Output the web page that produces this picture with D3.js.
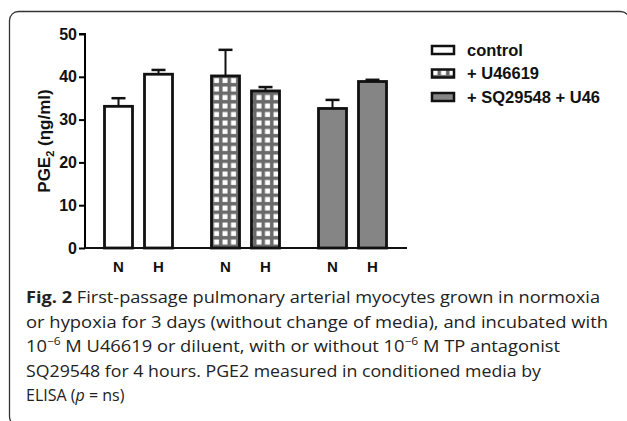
<!DOCTYPE html>
<html>
<head>
<meta charset="utf-8">
<script src="https://cdn.jsdelivr.net/npm/d3@7"></script>
<style>
  body { margin: 0; background: #fff; }
  svg { display: block; }
</style>
</head>
<body>
<div id="chart-area"></div>
<script>
let width = 627,
    height = 421;

// data
let groups = ["control", "+ U46619", "+ SQ29548 + U46"];
let conditions = ["N", "H"];
let means = [[33.1, 40.6], [40.2, 36.7], [32.6, 38.9]];
let errs = [[1.9, 1.0], [6.1, 0.9], [2.0, 0.4]];
let yTicks = [0, 10, 20, 30, 40, 50];

let captionLines = [
  [{t: "Fig. 2", b: true}, {t: " First-passage pulmonary arterial myocytes grown in normoxia"}],
  [{t: "or hypoxia for 3 days (without change of media), and incubated with"}],
  [{t: "10"}, {t: "\u22126", sup: true}, {t: " M U46619 or diluent, with or without 10"}, {t: "\u22126", sup: true}, {t: " M TP antagonist"}],
  [{t: "SQ29548 for 4 hours. PGE2 measured in conditioned media by"}],
  [{t: "ELISA ("}, {t: "p", i: true}, {t: " = ns)"}]
];
// right end of each caption line (null = natural width)
let captionEnds = [600, 608, 560, 541, null];

let svg = d3.select("#chart-area").append("svg")
  .attr("width", width)
  .attr("height", height);

// hatch pattern for U46619
let defs = svg.append("defs");
let pat = defs.append("pattern")
  .attr("id", "grid")
  .attr("patternUnits", "userSpaceOnUse")
  .attr("width", 8.5).attr("height", 8.5);
pat.append("rect").attr("width", 8.5).attr("height", 8.5).attr("fill", "#6a6a6a");
pat.append("rect").attr("x", 1.5).attr("y", 1.5).attr("width", 5).attr("height", 5).attr("fill", "#fff");

let fills = ["#fff", "url(#grid)", "#858585"];

// outer frame
svg.append("rect")
  .attr("x", 9.5).attr("y", 11.5)
  .attr("width", 620).attr("height", 414)
  .attr("rx", 9)
  .attr("fill", "none")
  .attr("stroke", "#333")
  .attr("stroke-width", 1.3);

let x0 = 85, x1 = 406, yTop = 34, yBase = 248;

let xGroup = d3.scaleBand().domain(groups).range([x0, x1]);
let xInner = d3.scaleBand().domain(conditions)
  .range([13.5, xGroup.bandwidth() - 13.5])
  .paddingInner(0.3).paddingOuter(0.15);
let y = d3.scaleLinear().domain([0, 50]).range([yBase, yTop]);

let bold = "'Liberation Sans', Arial, sans-serif";

// y axis
let yAxis = svg.append("g")
  .attr("transform", "translate(" + x0 + ",0)")
  .call(d3.axisLeft(y).tickValues(yTicks).tickSize(6).tickPadding(2));
yAxis.select(".domain").attr("stroke-width", 2).attr("d", "M-6," + yTop + "H0V" + yBase);
yAxis.selectAll(".tick line").attr("stroke-width", 2);
yAxis.selectAll("text")
  .attr("font-family", bold).attr("font-weight", "bold")
  .attr("font-size", 16).attr("fill", "#111");

svg.append("text")
  .attr("transform", "translate(50," + ((yTop + yBase) / 2) + ") rotate(-90)")
  .attr("text-anchor", "middle")
  .attr("font-family", bold).attr("font-weight", "bold")
  .attr("font-size", 17).attr("fill", "#111")
  .call(t => {
    t.append("tspan").text("PGE");
    t.append("tspan").attr("font-size", 11).attr("dy", 4).text("2");
    t.append("tspan").attr("dy", -4).text(" (\u03b7g/ml)");
  });

// bars
let rows = [];
groups.forEach((g, gi) => conditions.forEach((c, ci) => {
  rows.push({g: g, gi: gi, c: c, v: means[gi][ci], e: errs[gi][ci]});
}));

let bw = xInner.bandwidth();

// error bars (upwards only)
let eb = svg.selectAll(".err").data(rows).enter().append("g").attr("class", "err");
eb.append("line")
  .attr("x1", d => xGroup(d.g) + xInner(d.c) + bw / 2)
  .attr("x2", d => xGroup(d.g) + xInner(d.c) + bw / 2)
  .attr("y1", d => y(d.v)).attr("y2", d => y(d.v + d.e))
  .attr("stroke", "#111").attr("stroke-width", 2);
eb.append("line")
  .attr("x1", d => xGroup(d.g) + xInner(d.c) + bw / 2 - 7)
  .attr("x2", d => xGroup(d.g) + xInner(d.c) + bw / 2 + 7)
  .attr("y1", d => y(d.v + d.e)).attr("y2", d => y(d.v + d.e))
  .attr("stroke", "#111").attr("stroke-width", 2.5);

svg.selectAll(".bar").data(rows).enter().append("rect")
  .attr("class", "bar")
  .attr("x", d => xGroup(d.g) + xInner(d.c))
  .attr("y", d => y(d.v))
  .attr("width", bw)
  .attr("height", d => y(0) - y(d.v))
  .attr("fill", d => fills[d.gi])
  .attr("stroke", "#111")
  .attr("stroke-width", 2.8);

// x axis baseline
svg.append("line")
  .attr("x1", x0).attr("x2", x1 + 1)
  .attr("y1", yBase).attr("y2", yBase)
  .attr("stroke", "#111").attr("stroke-width", 2);

svg.selectAll(".xlab").data(rows).enter().append("text")
  .attr("class", "xlab")
  .attr("x", d => xGroup(d.g) + xInner(d.c) + bw / 2)
  .attr("y", 272)
  .attr("text-anchor", "middle")
  .attr("font-family", bold).attr("font-weight", "bold")
  .attr("font-size", 15).attr("fill", "#111")
  .text(d => d.c);

// legend
let leg = svg.selectAll(".leg").data(groups).enter().append("g")
  .attr("class", "leg")
  .attr("transform", (d, i) => "translate(431," + (45 + i * 23.5) + ")");
leg.append("rect")
  .attr("x", 1).attr("y", 1).attr("width", 22).attr("height", 8)
  .attr("fill", (d, i) => fills[i])
  .attr("stroke", "#111").attr("stroke-width", 2.5);
leg.append("text")
  .attr("x", 36).attr("y", 10.5)
  .attr("font-family", bold).attr("font-weight", "bold")
  .attr("font-size", 16.5).attr("fill", "#111")
  .text(d => d);

// caption
let capFont = "'Open Sans', 'Noto Sans', sans-serif";
captionLines.forEach((parts, li) => {
  let t = svg.append("text")
    .attr("x", 26).attr("y", 303 + li * 24.5)
    .attr("font-family", capFont)
    .attr("font-size", 16).attr("fill", "#222");
  parts.forEach(p => {
    let s = t.append("tspan").text(p.t);
    if (p.b) s.attr("font-weight", "bold");
    if (p.i) s.attr("font-style", "italic");
    if (p.sup) s.attr("font-size", 10.5).attr("baseline-shift", "super");
  });
  if (captionEnds[li] != null) {
    t.attr("textLength", captionEnds[li] - 26).attr("lengthAdjust", "spacingAndGlyphs");
  }
});
</script>
</body>
</html>
